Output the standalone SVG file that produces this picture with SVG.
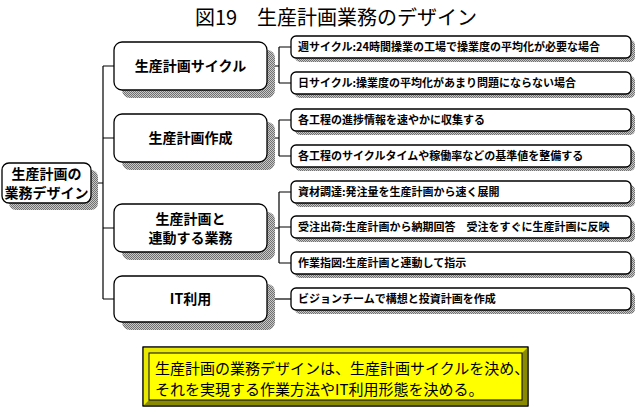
<svg xmlns="http://www.w3.org/2000/svg" width="638" height="414" viewBox="0 0 638 414">
<defs>
<pattern id="dither" width="2" height="2" patternUnits="userSpaceOnUse">
<rect width="2" height="2" fill="#c8c8c8"/>
<rect width="1" height="1" fill="#707070"/>
<rect x="1" y="1" width="1" height="1" fill="#707070"/>
</pattern>
<style>
.box{fill:#fff;stroke:#000;stroke-width:1.3}
.shadow{fill:url(#dither);stroke:none}
.conn{fill:none;stroke:#000;stroke-width:1.2}
.t{font-family:"Noto Sans CJK JP","Noto Sans CJK SC",sans-serif;fill:#000}
.mid{font-size:14px;font-weight:bold;text-anchor:middle}
.leaf{font-size:11px;font-weight:bold}
.title{font-size:20px;text-anchor:middle}
.note{font-size:15px}
</style>
</defs>
<rect width="638" height="414" fill="#fff"/>
<text class="t title" x="336" y="25">図19　生産計画業務のデザイン</text>

<g id="connectors">
<path class="conn" d="M91,183 H103 M103,66 V299 M103,66 H114 M103,138 H114 M103,228 H114 M103,299 H114"/>
<path class="conn" d="M267,66 H279 M279,47 V83 M279,47 H291 M279,83 H291"/>
<path class="conn" d="M267,138 H279 M279,120 V156 M279,120 H291 M279,156 H291"/>
<path class="conn" d="M267,228 H279 M279,192 V263 M279,192 H291 M279,227 H291 M279,263 H291"/>
<path class="conn" d="M267,299 H291"/>
</g>

<g id="root">
<rect class="shadow" x="9" y="170" width="89" height="40" rx="7"/>
<rect class="box" x="2" y="163" width="89" height="40" rx="7"/>
<text class="t mid" x="46.5" y="179">生産計画の</text>
<text class="t mid" x="46.5" y="198">業務デザイン</text>
</g>

<g id="mid-cycle">
<rect class="shadow" x="122" y="50" width="153" height="48" rx="8"/>
<rect class="box" x="114" y="42" width="153" height="48" rx="8"/>
<text class="t mid" x="190.5" y="71">生産計画サイクル</text>
</g>
<g id="mid-create">
<rect class="shadow" x="122" y="122" width="153" height="48" rx="8"/>
<rect class="box" x="114" y="114" width="153" height="48" rx="8"/>
<text class="t mid" x="190.5" y="143">生産計画作成</text>
</g>
<g id="mid-linked">
<rect class="shadow" x="122" y="212" width="153" height="48" rx="8"/>
<rect class="box" x="114" y="204" width="153" height="48" rx="8"/>
<text class="t mid" x="190.5" y="224">生産計画と</text>
<text class="t mid" x="190.5" y="243">連動する業務</text>
</g>
<g id="mid-it">
<rect class="shadow" x="122" y="284" width="153" height="46" rx="8"/>
<rect class="box" x="114" y="276" width="153" height="46" rx="8"/>
<text class="t mid" x="190.5" y="304">IT利用</text>
</g>

<g id="leaf1">
<rect class="shadow" x="295" y="40" width="340" height="22" rx="5"/>
<rect class="box" x="291" y="36" width="340" height="22" rx="5"/>
<text class="t leaf" x="298" y="51">週サイクル:24時間操業の工場で操業度の平均化が必要な場合</text>
</g>
<g id="leaf2">
<rect class="shadow" x="295" y="76" width="340" height="22" rx="5"/>
<rect class="box" x="291" y="72" width="340" height="22" rx="5"/>
<text class="t leaf" x="298" y="87">日サイクル:操業度の平均化があまり問題にならない場合</text>
</g>
<g id="leaf3">
<rect class="shadow" x="295" y="113" width="340" height="22" rx="5"/>
<rect class="box" x="291" y="109" width="340" height="22" rx="5"/>
<text class="t leaf" x="298" y="124">各工程の進捗情報を速やかに収集する</text>
</g>
<g id="leaf4">
<rect class="shadow" x="295" y="149" width="340" height="22" rx="5"/>
<rect class="box" x="291" y="145" width="340" height="22" rx="5"/>
<text class="t leaf" x="298" y="160">各工程のサイクルタイムや稼働率などの基準値を整備する</text>
</g>
<g id="leaf5">
<rect class="shadow" x="295" y="185" width="340" height="22" rx="5"/>
<rect class="box" x="291" y="181" width="340" height="22" rx="5"/>
<text class="t leaf" x="298" y="196">資材調達:発注量を生産計画から速く展開</text>
</g>
<g id="leaf6">
<rect class="shadow" x="295" y="220" width="340" height="22" rx="5"/>
<rect class="box" x="291" y="216" width="340" height="22" rx="5"/>
<text class="t leaf" x="298" y="231">受注出荷:生産計画から納期回答　受注をすぐに生産計画に反映</text>
</g>
<g id="leaf7">
<rect class="shadow" x="295" y="256" width="340" height="22" rx="5"/>
<rect class="box" x="291" y="252" width="340" height="22" rx="5"/>
<text class="t leaf" x="298" y="267">作業指図:生産計画と連動して指示</text>
</g>
<g id="leaf8">
<rect class="shadow" x="295" y="292" width="340" height="22" rx="5"/>
<rect class="box" x="291" y="288" width="340" height="22" rx="5"/>
<text class="t leaf" x="298" y="303">ビジョンチームで構想と投資計画を作成</text>
</g>

<g id="summary">
<rect x="143" y="347" width="385" height="59" fill="#ffff00" stroke="#000" stroke-width="1"/>
<polygon points="143.5,347.5 527.5,347.5 522,353 149,353 149,400 143.5,405.5" fill="#e8e800"/>
<polygon points="527.5,347.5 527.5,405.5 143.5,405.5 149,400 522,400 522,353" fill="#8a8a00"/>
<rect x="143" y="347" width="385" height="59" fill="none" stroke="#000" stroke-width="1"/>
<rect x="149" y="353" width="373" height="47" fill="#ffff00" stroke="#000" stroke-width="1"/>
<text class="t note" x="155" y="374">生産計画の業務デザインは、生産計画サイクルを決め、</text>
<text class="t note" x="155" y="395">それを実現する作業方法やIT利用形態を決める。</text>
</g>
</svg>
